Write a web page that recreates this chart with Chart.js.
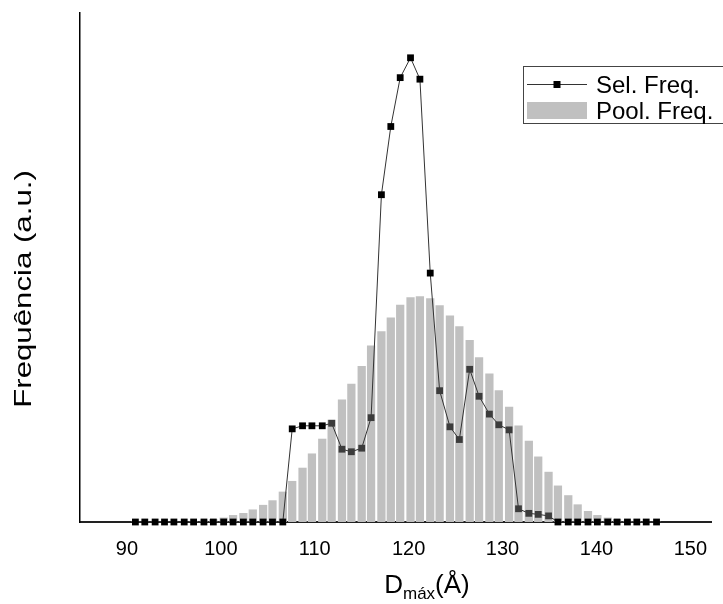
<!DOCTYPE html>
<html>
<head>
<meta charset="utf-8">
<script src="https://cdn.jsdelivr.net/npm/chart.js@4.4.0/dist/chart.umd.min.js"></script>
<style>
  html, body { margin: 0; padding: 0; background: #fff; }
</style>
</head>
<body>
<canvas id="chart" width="723" height="604"></canvas>
<script>
// D_max bin centres (Å)
const dmax = [
  90.9, 91.9, 93.0, 94.0, 95.0, 96.1, 97.1, 98.2, 99.2, 100.3,
  101.3, 102.4, 103.4, 104.5, 105.5, 106.6, 107.6, 108.7, 109.7, 110.8,
  111.8, 112.9, 113.9, 115.0, 116.0, 117.1, 118.1, 119.1, 120.2, 121.2,
  122.3, 123.3, 124.4, 125.4, 126.5, 127.5, 128.6, 129.6, 130.7, 131.7,
  132.8, 133.8, 134.9, 135.9, 137.0, 138.0, 139.1, 140.1, 141.2, 142.2,
  143.3, 144.3, 145.3, 146.4
];

// selected ensemble frequency (a.u.)
const selFreq = [
  0, 0, 0, 0, 0, 0, 0, 0, 0, 0,
  0, 0, 0, 0, 0, 0, 18.3, 18.9, 18.9, 18.9,
  19.4, 14.3, 13.8, 14.5, 20.5, 64.3, 77.7, 87.3, 91.2, 87.0,
  48.9, 25.8, 18.7, 16.2, 30.0, 24.7, 21.2, 19.1, 18.1, 2.6,
  1.7, 1.5, 1.2, 0, 0, 0, 0, 0, 0, 0,
  0, 0, 0, 0
];

// pool frequency (a.u.)
const poolFreq = [
  0, 0, 0, 0, 0, 0, 0.1, 0.2, 0.5, 0.8,
  1.3, 1.7, 2.4, 3.3, 4.2, 5.9, 8.0, 10.6, 13.4, 16.3,
  20.0, 24.0, 27.1, 30.6, 34.6, 37.4, 40.1, 42.6, 44.1, 44.3,
  43.9, 42.5, 40.5, 38.4, 35.7, 32.3, 29.1, 25.8, 22.6, 18.9,
  15.9, 12.8, 9.8, 7.1, 5.2, 3.4, 2.1, 1.3, 0.8, 0.5,
  0.2, 0.1, 0, 0
];

const xTicks = [90, 100, 110, 120, 130, 140, 150];

const FONT = "'Liberation Sans', Arial, sans-serif";
const BAR_GREY = '#c0c0c0';

// squares sitting inside a pool bar look greyed out
function markerColor(i) {
  return selFreq[i] > 0 && selFreq[i] < poolFreq[i] ? '#3c3c3c' : '#000';
}

// legend box and axis titles (subscripted D_máx)
const decorations = {
  id: 'decorations',
  afterDraw(chart) {
    const ctx = chart.ctx;
    ctx.save();

    // legend frame
    ctx.strokeStyle = '#444';
    ctx.lineWidth = 1;
    ctx.strokeRect(523.5, 66.5, 230, 57);

    // Sel. Freq. sample: line with a square marker
    ctx.strokeStyle = '#333';
    ctx.beginPath();
    ctx.moveTo(527, 84.5);
    ctx.lineTo(587, 84.5);
    ctx.stroke();
    ctx.fillStyle = '#000';
    ctx.fillRect(553.5, 81, 7, 7);

    // Pool. Freq. sample
    ctx.fillStyle = BAR_GREY;
    ctx.fillRect(527, 102, 60, 17);

    ctx.fillStyle = '#000';
    ctx.font = '24px ' + FONT;
    ctx.textBaseline = 'middle';
    ctx.textAlign = 'left';
    ctx.fillText('Sel. Freq.', 596, 86);
    ctx.fillText('Pool. Freq.', 596, 112);

    // y title, drawn a bit stretched along its length
    ctx.save();
    ctx.translate(24, 289);
    ctx.rotate(-Math.PI / 2);
    ctx.scale(1.3, 1);
    ctx.textAlign = 'center';
    ctx.font = '24px ' + FONT;
    ctx.fillText('Frequência (a.u.)', 0, 0);
    ctx.restore();

    // x title: D_máx(Å)
    ctx.textBaseline = 'alphabetic';
    ctx.textAlign = 'left';
    const big = '26px ' + FONT;
    const small = '17px ' + FONT;
    ctx.font = big;
    const wD = ctx.measureText('D').width;
    const wP = ctx.measureText('(Å)').width;
    ctx.font = small;
    const wS = ctx.measureText('máx').width;
    let x = 427 - (wD + wS + wP) / 2;
    const base = 593;
    ctx.font = big;
    ctx.fillText('D', x, base);
    x += wD;
    ctx.font = small;
    ctx.fillText('máx', x, base + 6);
    x += wS;
    ctx.font = big;
    ctx.fillText('(Å)', x, base);

    ctx.restore();
  }
};

const ctx = document.getElementById('chart').getContext('2d');
new Chart(ctx, {
  type: 'bar',
  data: {
    datasets: [
      {
        type: 'line',
        label: 'Sel. Freq.',
        data: dmax.map((x, i) => ({ x, y: selFreq[i] })),
        borderColor: '#333',
        borderWidth: 1,
        tension: 0,
        pointStyle: 'rect',
        pointRadius: 4.8,
        pointBorderWidth: 0,
        pointBackgroundColor: c => markerColor(c.dataIndex),
        clip: false,
        order: 0
      },
      {
        type: 'bar',
        label: 'Pool. Freq.',
        data: dmax.map((x, i) => ({ x, y: poolFreq[i] })),
        backgroundColor: BAR_GREY,
        borderWidth: 0,
        barThickness: 7.6,
        order: 1
      }
    ]
  },
  options: {
    responsive: false,
    animation: false,
    devicePixelRatio: 1,
    layout: { padding: { top: 13, right: 12, left: 0, bottom: 0 } },
    plugins: {
      legend: { display: false },
      tooltip: { enabled: false }
    },
    scales: {
      x: {
        type: 'linear',
        offset: false,
        min: 85,
        max: 152.2,
        grid: { display: false, drawTicks: false, offset: false },
        border: { color: '#222', width: 2 },
        afterBuildTicks: s => { s.ticks = xTicks.map(v => ({ value: v })); },
        afterFit: s => { s.height = 82; },
        ticks: {
          color: '#000',
          padding: 15,
          font: { family: FONT, size: 20 }
        }
      },
      y: {
        min: 0,
        max: 100,
        grid: { display: false, drawTicks: false },
        border: { color: '#000', width: 1.5 },
        ticks: { display: false },
        afterFit: s => { s.width = 80; }
      }
    }
  },
  plugins: [decorations]
});
</script>
</body>
</html>
